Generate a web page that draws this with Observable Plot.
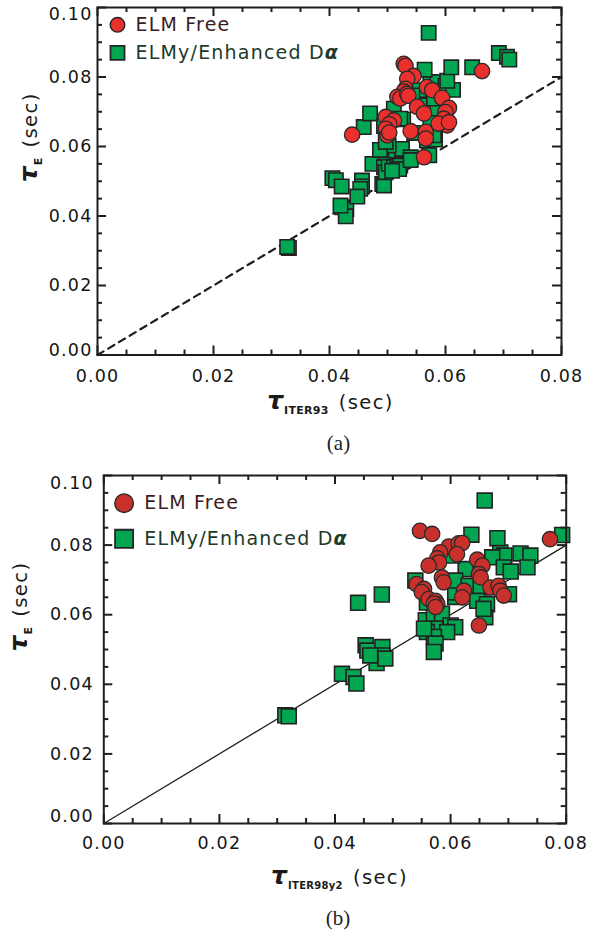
<!DOCTYPE html>
<html>
<head>
<meta charset="utf-8">
<script src="https://cdn.jsdelivr.net/npm/d3@7"></script>
<script src="https://cdn.jsdelivr.net/npm/@observablehq/plot@0.6"></script>
<style>
  body { margin: 0; background: #fff; }
  svg { display: block; }
</style>
</head>
<body>
<div id="chart"></div>
<script>
// Energy confinement time: measured tau_E against scaling-law predictions.
// Each point is [predicted tau (sec), measured tau_E (sec)].

// Panel (a): ITER93 scaling
const elmFreeA = [
  [0.0439, 0.0634], [0.0497, 0.0685], [0.0511, 0.0675], [0.0503, 0.0664], [0.0497, 0.0651],
  [0.0500, 0.0632], [0.0503, 0.0640], [0.0528, 0.0838], [0.0531, 0.0832], [0.0545, 0.0803],
  [0.0534, 0.0795], [0.0531, 0.0766], [0.0528, 0.0758], [0.0517, 0.0743], [0.0522, 0.0738],
  [0.0534, 0.0752], [0.0536, 0.0746], [0.0568, 0.0771], [0.0577, 0.0762], [0.0594, 0.0740],
  [0.0606, 0.0711], [0.0600, 0.0699], [0.0551, 0.0714], [0.0563, 0.0695], [0.0540, 0.0644],
  [0.0566, 0.0642], [0.0566, 0.0623], [0.0597, 0.0680], [0.0603, 0.0661], [0.0588, 0.0666],
  [0.0606, 0.0670], [0.0563, 0.0569], [0.0663, 0.0817]
];
const elmyA = [
  [0.0330, 0.0308], [0.0327, 0.0311],
  [0.0405, 0.0509], [0.0411, 0.0503], [0.0421, 0.0485], [0.0422, 0.0425], [0.0429, 0.0420],
  [0.0428, 0.0399], [0.0419, 0.0430], [0.0456, 0.0502], [0.0456, 0.0485], [0.0453, 0.0478],
  [0.0448, 0.0456], [0.0459, 0.0656], [0.0470, 0.0695], [0.0474, 0.0550],
  [0.0494, 0.0540], [0.0491, 0.0492], [0.0494, 0.0488], [0.0497, 0.0526], [0.0502, 0.0550],
  [0.0511, 0.0540], [0.0517, 0.0564], [0.0522, 0.0545], [0.0520, 0.0535], [0.0508, 0.0530],
  [0.0497, 0.0583], [0.0514, 0.0588], [0.0525, 0.0593], [0.0540, 0.0569], [0.0502, 0.0603],
  [0.0568, 0.0617], [0.0574, 0.0626], [0.0487, 0.0590], [0.0572, 0.0575], [0.0540, 0.0561],
  [0.0494, 0.0659], [0.0527, 0.0678], [0.0546, 0.0639], [0.0582, 0.0620],
  [0.0511, 0.0709], [0.0522, 0.0680], [0.0497, 0.0613], [0.0557, 0.0718], [0.0574, 0.0680],
  [0.0586, 0.0709], [0.0580, 0.0632], [0.0554, 0.0762], [0.0543, 0.0747], [0.0574, 0.0786],
  [0.0580, 0.0738], [0.0586, 0.0785], [0.0600, 0.0775], [0.0613, 0.0763], [0.0603, 0.0789],
  [0.0564, 0.0821], [0.0610, 0.0828], [0.0646, 0.0828], [0.0571, 0.0927],
  [0.0692, 0.0869], [0.0706, 0.0858], [0.0710, 0.0850]
];

// Panel (b): ITER98(y,2) scaling
const elmFreeB = [
  [0.0772, 0.0817], [0.0547, 0.0841], [0.0568, 0.0832], [0.0597, 0.0796], [0.0614, 0.0805],
  [0.0620, 0.0806], [0.0611, 0.0774], [0.0582, 0.0779], [0.0577, 0.0762], [0.0580, 0.0750],
  [0.0562, 0.0741], [0.0585, 0.0707], [0.0588, 0.0693], [0.0646, 0.0758], [0.0655, 0.0741],
  [0.0649, 0.0717], [0.0652, 0.0707], [0.0541, 0.0688], [0.0554, 0.0674], [0.0550, 0.0665],
  [0.0562, 0.0645], [0.0574, 0.0640], [0.0577, 0.0630], [0.0571, 0.0632], [0.0574, 0.0622],
  [0.0623, 0.0669], [0.0620, 0.0650], [0.0669, 0.0678], [0.0683, 0.0683], [0.0686, 0.0669],
  [0.0692, 0.0655], [0.0649, 0.0569]
];
const elmyB = [
  [0.0314, 0.0311], [0.0320, 0.0308],
  [0.0412, 0.0430], [0.0432, 0.0421], [0.0437, 0.0402],
  [0.0453, 0.0512], [0.0456, 0.0497], [0.0482, 0.0507], [0.0482, 0.0483], [0.0472, 0.0461],
  [0.0487, 0.0474], [0.0461, 0.0483], [0.0440, 0.0634], [0.0481, 0.0658],
  [0.0539, 0.0698], [0.0559, 0.0635], [0.0557, 0.0584], [0.0571, 0.0593], [0.0574, 0.0560],
  [0.0585, 0.0603], [0.0600, 0.0569], [0.0608, 0.0564], [0.0594, 0.0550], [0.0559, 0.0550],
  [0.0571, 0.0536], [0.0574, 0.0517], [0.0571, 0.0493], [0.0554, 0.0560],
  [0.0608, 0.0651], [0.0623, 0.0664], [0.0608, 0.0664], [0.0626, 0.0731], [0.0608, 0.0698],
  [0.0631, 0.0683], [0.0652, 0.0678], [0.0646, 0.0640], [0.0663, 0.0630], [0.0660, 0.0593],
  [0.0657, 0.0617], [0.0701, 0.0659], [0.0603, 0.0770],
  [0.0686, 0.0779], [0.0693, 0.0770], [0.0672, 0.0765], [0.0692, 0.0736], [0.0704, 0.0724],
  [0.0721, 0.0776], [0.0738, 0.0770], [0.0733, 0.0736],
  [0.0636, 0.0830], [0.0681, 0.0820], [0.0793, 0.0829], [0.0659, 0.0928]
];

// Reference line tau_E = tau_scaling
const unityLine = [0, 0.08];

// Axis ticks
const xMajorTicks = [0, 0.02, 0.04, 0.06, 0.08];
const xMinorTicks = [0.005, 0.01, 0.015, 0.025, 0.03, 0.035, 0.045, 0.05, 0.055, 0.065, 0.07, 0.075];
const yMajorTicks = [0, 0.02, 0.04, 0.06, 0.08, 0.10];
const yMinorTicks = [0.005, 0.01, 0.015, 0.025, 0.03, 0.035, 0.045, 0.05, 0.055, 0.065, 0.07, 0.075, 0.085, 0.09, 0.095];
const yInnerLabels = [0.02, 0.04, 0.06, 0.08];

// Legend entries
const legendLabels = ["ELM Free", "ELMy/Enhanced D\u03b1"];

const yTitle = "\u03c4E (sec)";
const xTitleA = "\u03c4ITER93 (sec)";
const xTitleB = "\u03c4ITER98y2 (sec)";

const fmt = d3.format(".2f");
const ink = "#1e1e1e";
const MAJOR = 9, MINOR = 5;

// Inward-pointing ticks on all four sides of the frame: full-frame tick
// marks, inset so that only a short stub next to each edge remains.
function frameTicks(c) {
  const fw = 593 - c.ml - c.mr;
  const fh = c.height - c.mt - c.mb;
  const s = {stroke: ink, strokeWidth: 2};
  const tx = (data, edge, len) => Plot.tickX(data, {...s, x: d => d,
    insetTop: edge === "bottom" ? fh - len : 0, insetBottom: edge === "top" ? fh - len : 0});
  const ty = (data, edge, len) => Plot.tickY(data, {...s, y: d => d,
    insetRight: edge === "left" ? fw - len : 0, insetLeft: edge === "right" ? fw - len : 0});
  return [
    tx(xMajorTicks, "bottom", MAJOR), tx(xMinorTicks, "bottom", MINOR),
    tx(xMajorTicks, "top", MAJOR), tx(xMinorTicks, "top", MINOR),
    ty(yMajorTicks, "left", MAJOR), ty(yMinorTicks, "left", MINOR),
    ty(yMajorTicks, "right", MAJOR), ty(yMinorTicks, "right", MINOR)
  ];
}

function tickLabels(c) {
  const l = {tickSize: 0, tickFormat: fmt, label: null, fill: "#151515", fontSize: 17.5};
  return [
    Plot.axisX(xMajorTicks, {anchor: "bottom", tickPadding: c.xPad, ...l}),
    Plot.axisY(yInnerLabels, {anchor: "left", tickPadding: c.yPad, ...l}),
    Plot.axisY([0.10], {anchor: "left", tickPadding: c.yPad, dy: c.topShift, ...l}),
    Plot.axisY([0], {anchor: "left", tickPadding: c.yPad, dy: c.bottomShift, ...l})
  ];
}

function legend(c) {
  const base = {frameAnchor: "top-left", stroke: "#262626", strokeWidth: 1.4};
  const txt = {frameAnchor: "top-left", dx: c.txtDx, text: d => d, textAnchor: "start", lineAnchor: "middle", fontSize: 19};
  return [
    Plot.dot([legendLabels[0]], {...base, dx: c.symDx, dy: c.row1, symbol: "circle", r: c.legR, fill: c.red}),
    Plot.dot([legendLabels[1]], {...base, dx: c.symDx, dy: c.row2, symbol: "square", r: c.legS, fill: c.green, strokeWidth: 1.8}),
    Plot.text([legendLabels[0]], {...txt, dy: c.row1, fill: "#3b1d1d"}),
    Plot.text([legendLabels[1]], {...txt, dy: c.row2, fill: "#1c3a29"})
  ];
}

// Replace a plain text node by styled tspans (Greek tau, subscripts).
function richText(svg, plain, parts) {
  d3.select(svg).selectAll("text")
    .filter(function () { return this.textContent === plain; })
    .each(function () {
      const t = d3.select(this);
      t.text(null);
      for (const p of parts) {
        const s = t.append("tspan").text(p.text);
        if (p.style) s.attr("style", p.style);
        if (p.dx != null) s.attr("dx", p.dx);
        if (p.dy != null) s.attr("dy", p.dy);
      }
    });
}

function titleParts(sub, subSize) {
  return [
    {text: "\u03c4", style: "font-weight:bold;font-style:italic;font-size:25px;letter-spacing:0"},
    {text: sub, style: `font-weight:bold;font-size:${subSize}px;letter-spacing:0.3px`, dx: 1, dy: 5},
    {text: "(sec)", style: "font-size:19.5px;letter-spacing:1.4px", dx: 10, dy: -5}
  ];
}

function panel(c) {
  const svg = Plot.plot({
    width: 593,
    height: c.height,
    marginTop: c.mt, marginRight: c.mr, marginBottom: c.mb, marginLeft: c.ml,
    x: {domain: [0, 0.08]},
    y: {domain: [0, 0.1]},
    style: {fontFamily: "'DejaVu Sans', sans-serif", fontSize: "17.5px", letterSpacing: "1.2px", color: ink, background: "#fff"},
    marks: [
      Plot.line(unityLine, {x: d => d, y: d => d, stroke: ink, strokeWidth: c.lineWidth, strokeDasharray: c.dash}),
      Plot.dot(c.elmy, {x: d => d[0], y: d => d[1], symbol: "square", r: c.sq, fill: c.green, stroke: "#222", strokeWidth: 1.6}),
      Plot.dot(c.elmFree, {x: d => d[0], y: d => d[1], symbol: "circle", r: c.cr, fill: c.red, stroke: "#2a2a2a", strokeWidth: 1.3}),
      Plot.frame({stroke: ink, strokeWidth: 2}),
      ...frameTicks(c),
      ...tickLabels(c),
      ...legend(c),
      Plot.text([c.xTitle], {frameAnchor: "bottom", dx: c.xtDx, dy: c.xtDy, text: d => d, lineAnchor: "middle", fontSize: 19, fill: "#1a1a1a"}),
      Plot.text([yTitle], {frameAnchor: "left", dx: c.ytDx, dy: c.ytDy, rotate: -90, text: d => d, lineAnchor: "middle", fontSize: 19, fill: "#1a1a1a"}),
      Plot.text([c.caption], {frameAnchor: "bottom", dx: c.capDx, dy: c.capDy, text: d => d, lineAnchor: "middle",
        fontFamily: "'Liberation Serif', 'DejaVu Serif', serif", fontSize: 21, fill: "#222"})
    ]
  });
  richText(svg, yTitle, titleParts("E", 11));
  richText(svg, c.xTitle, titleParts(c.sub, c.subSize));
  richText(svg, legendLabels[1], [
    {text: "ELMy/Enhanced D"},
    {text: "\u03b1", style: "font-weight:bold;font-style:italic"}
  ]);
  d3.select(svg).selectAll("text").filter(function () { return this.textContent === c.caption; })
    .style("letter-spacing", "0");
  return svg;
}

const chart = document.getElementById("chart");

chart.append(panel({
  height: 460, mt: 7, mr: 32, mb: 105.5, ml: 97,
  elmFree: elmFreeA, elmy: elmyA,
  red: "#ea302d", green: "#00a651",
  cr: 7.7, sq: 8.1,
  lineWidth: 2.2, dash: "7,5.5",
  xPad: 15, yPad: 5, topShift: 7, bottomShift: -5,
  symDx: 20, row1: 17.3, row2: 45.3, txtDx: 38, legR: 7.3, legS: 7.9,
  xTitle: xTitleA, sub: "ITER93", subSize: 11, xtDx: 1, xtDy: 48,
  ytDx: -67, ytDy: 1,
  caption: "(a)", capDx: 9, capDy: 88
}));

chart.append(panel({
  height: 471, mt: 15, mr: 27.3, mb: 108, ml: 103.3,
  elmFree: elmFreeB, elmy: elmyB,
  red: "#c8312b", green: "#03a650",
  cr: 7.7, sq: 8.4,
  lineWidth: 1.3, dash: null,
  xPad: 13, yPad: 10, topShift: 7.5, bottomShift: -7,
  symDx: 20.3, row1: 27.7, row2: 63.3, txtDx: 40.4, legR: 9.3, legS: 10.2,
  xTitle: xTitleB, sub: "ITER98y2", subSize: 10, xtDx: 4.5, xtDy: 54,
  ytDx: -83, ytDy: 2,
  caption: "(b)", capDx: 3, capDy: 95
}));
</script>
</body>
</html>
